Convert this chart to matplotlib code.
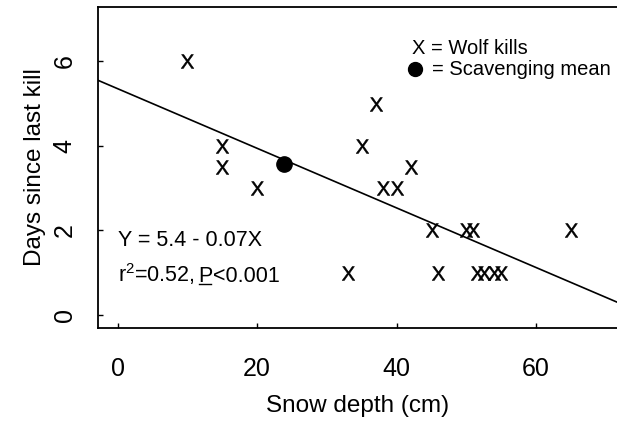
import numpy as np
import matplotlib
matplotlib.use("Agg")
import matplotlib.pyplot as plt

plt.rcParams['font.family'] = ['Liberation Sans', 'DejaVu Sans']
plt.rcParams['mathtext.fontset'] = 'custom'
plt.rcParams['mathtext.rm'] = 'Liberation Sans'
plt.rcParams['mathtext.it'] = 'Liberation Sans:italic'

# wolf kills: snow depth (cm) vs days since last kill
wolf_x = [10, 15, 15, 20, 33, 35, 37, 38, 40, 42, 45, 46, 50, 51, 51.5, 52.5, 54, 55, 65]
wolf_y = [6, 4, 3.5, 3, 1, 4, 5, 3, 3, 3.5, 2, 1, 2, 2, 1, 1, 1, 1, 2]

# scavenging mean
scav_x = [23.8]
scav_y = [3.56]

# regression line
intercept = 5.35
slope = -0.0705

xticks = [0, 20, 40, 60]
yticks = [0, 2, 4, 6]
xlim = (-2.87, 71.6)
ylim = (-0.31, 7.29)

fig = plt.figure(figsize=(6.17, 4.21), dpi=100)
ax = fig.add_axes([0.1583, 0.2209, 0.8417, 0.7632])

xs = np.array(xlim)
ax.plot(xs, intercept + slope * xs, color='black', lw=1.2, zorder=1)

ax.plot(wolf_x, wolf_y, ls='none', marker=r'$\mathrm{X}$', ms=10,
        color='black', mew=0.4, zorder=2)
ax.plot(scav_x, scav_y, ls='none', marker='o', ms=11, color='black', zorder=3)

ax.set_xlim(*xlim)
ax.set_ylim(*ylim)
ax.set_xticks(xticks)
ax.set_yticks(yticks)
ax.tick_params(direction='in', length=3.5, width=1, labelsize=18)
ax.tick_params(axis='x', pad=21)
ax.tick_params(axis='y', pad=15)
for lab in ax.get_yticklabels():
    lab.set_rotation(90)
    lab.set_va('center')

for s in ['left', 'bottom', 'top']:
    ax.spines[s].set_linewidth(1.3)
ax.spines['right'].set_visible(False)

ax.set_xlabel('Snow depth (cm)', fontsize=17.5, labelpad=10)
ax.set_ylabel('Days since last kill', fontsize=17.5, labelpad=5)

fs = 15.5
ax.text(0.0, 1.76, 'Y = 5.4 - 0.07X', fontsize=fs, va='center', ha='left')

# r2 line, with underlined P
px_pt = 72 / fig.dpi
ty = 0.77
t1 = ax.text(0.0, ty, r'r$^{2}$=0.52,', fontsize=fs, va='baseline', ha='left')
fig.canvas.draw()
b1 = t1.get_window_extent()
p_off = b1.width + 4
tp = ax.annotate('P', xy=(0.0, ty), xycoords='data',
                 xytext=(p_off * px_pt, 0), textcoords='offset points',
                 fontsize=fs, va='baseline', ha='left')
fig.canvas.draw()
bp = tp.get_window_extent()
ax.annotate('<0.001', xy=(0.0, ty), xycoords='data',
            xytext=((p_off + bp.width) * px_pt, 0), textcoords='offset points',
            fontsize=fs, va='baseline', ha='left')
inv = ax.transData.inverted()
base = ax.transData.transform((0.0, ty))[1]
p0 = inv.transform((bp.x0 + 1, base - 2))
p1 = inv.transform((bp.x0 + 1 + bp.width * 0.8, base - 2))
ax.plot([p0[0], p1[0]], [p0[1], p1[1]], color='black', lw=1.0)

# legend drawn as text
ax.text(0.606, 0.871, 'X = Wolf kills', transform=ax.transAxes,
        fontsize=14.5, va='center', ha='left')
ax.plot([0.611], [0.805], transform=ax.transAxes, marker='o', ms=10,
        color='black', clip_on=False)
ax.text(0.644, 0.805, '= Scavenging mean', transform=ax.transAxes,
        fontsize=14.5, va='center', ha='left')

fig.savefig('out.png', dpi=100)
